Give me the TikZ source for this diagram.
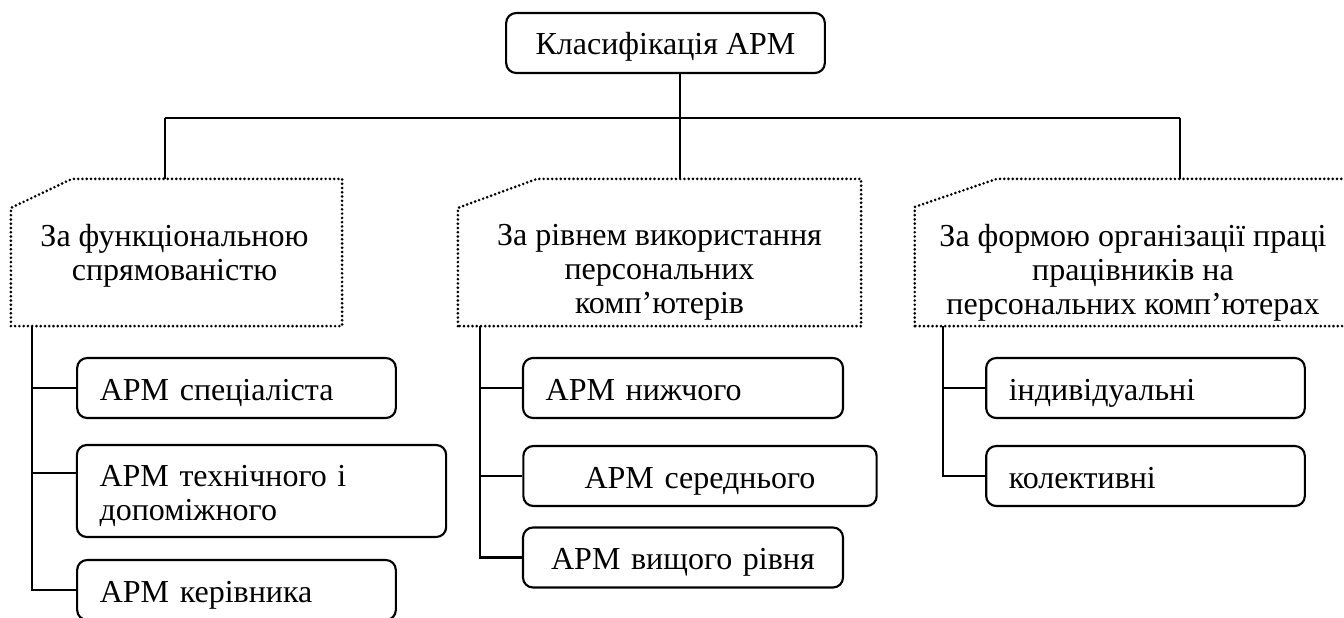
\documentclass[tikz,border=0pt]{standalone}
\usepackage{fontspec}
\setmainfont{Liberation Serif}
\usetikzlibrary{positioning, calc}

\begin{document}
\begin{tikzpicture} [
    x=0.75pt, y=-0.75pt,
    font=\fontsize{24}{25.5}\selectfont,
    line/.style={line width=1.6pt},
    dots/.style={line width=2.2pt, line cap=round, dash pattern=on 0pt off 3.2pt},
    root/.style={rectangle, draw=black, line width=1.6pt, rounded corners=7.5pt, minimum width=239pt, minimum height=45pt, text height=18pt, text depth=0.7pt, text centered},
    frame/.style={rectangle, inner sep=0pt, minimum height=110pt},
    caption/.style={align=center, inner sep=0pt, anchor=north},
    item/.style={rectangle, draw=black, line width=1.6pt, rounded corners=7.5pt, minimum height=45pt, inner xsep=17pt, text width=205pt, align=left},
    single/.style={item, text height=18.7pt, text depth=0.7pt},
    singlec/.style={single, align=center}
]
\useasboundingbox (0,0) rectangle (1344,617);

% LAYER 1: top node and bus
\node[root] (root) at (665.5,43) {Класифікація АРМ};

\coordinate (bus1) at (165,118);
\coordinate (bus2) at (680,118);
\coordinate (bus3) at (1180,118);

% LAYER 2: dotted group frames
\node[frame, minimum width=248pt] (grp1) at (176.5,252.5) {};
\node[frame, minimum width=302pt] (grp2) at (659.5,252.5) {};
\node[frame, minimum width=327pt] (grp3) at (1133,252.5) {};

\draw[dots] (grp1.south west) -- ($(grp1.north west)+(0,29)$) -- ($(grp1.north west)+(61,0)$) -- (grp1.north east) -- (grp1.south east) -- cycle;
\draw[dots] (grp2.south west) -- ($(grp2.north west)+(0,29)$) -- ($(grp2.north west)+(79,0)$) -- (grp2.north east) -- (grp2.south east) -- cycle;
\draw[dots] (grp3.south west) -- ($(grp3.north west)+(0,28)$) -- ($(grp3.north west)+(82,0)$) -- (grp3.north east) -- (grp3.south east) -- cycle;

\node[caption] (cap1) at ($(grp1.north)+(-2,45)$) {За функціональною\\спрямованістю};
\node[caption] (cap2) at ($(grp2.north)+(0,45)$) {За рівнем використання\\персональних\\комп’ютерів};
\node[caption] (cap3) at ($(grp3.north)+(0,45)$) {За формою організації праці\\працівників на\\персональних комп’ютерах};

% LAYER 3: leaf boxes
\node[single] (spec) at (236.5,388) {АРМ спеціаліста};
\node[item, text width=243pt, minimum height=69pt, text height=18.7pt, text depth=26.2pt] (tech) at (261.5,491) {АРМ технічного і\\допоміжного};
\node[single] (head) at (236.5,590) {АРМ керівника};

\node[single, text width=206pt] (low) at (683,388) {АРМ нижчого};
\node[singlec, text width=231pt] (mid) at (700,476) {АРМ середнього};
\node[singlec, text width=206pt] (high) at (683,557.5) {АРМ вищого рівня};

\node[single] (indiv) at (1145.5,388) {індивідуальні};
\node[single] (coll) at (1145.5,476) {колективні};

% LAYER 4: connectors
\draw[line] (root.south -| bus2) -- (bus2);
\draw[line] (bus1) -- (bus3);
\draw[line] (bus1) -- (bus1 |- grp1.north);
\draw[line] (bus2) -- (bus2 |- grp2.north);
\draw[line] (bus3) -- (bus3 |- grp3.north);

\coordinate (trunk1) at (32,326);
\coordinate (trunk2) at (480,326);
\coordinate (trunk3) at (943,326);

\draw[line] (trunk1) |- (spec.west);
\draw[line] (trunk1) |- ([yshift=13.5pt]tech.west);
\draw[line] (trunk1) |- (head.west);

\draw[line] (trunk2) |- (low.west);
\draw[line] (trunk2) |- (mid.west);
\draw[line] (trunk2) |- (high.west);

\draw[line] (trunk3) |- (indiv.west);
\draw[line] (trunk3) |- (coll.west);

\end{tikzpicture}
\end{document}
